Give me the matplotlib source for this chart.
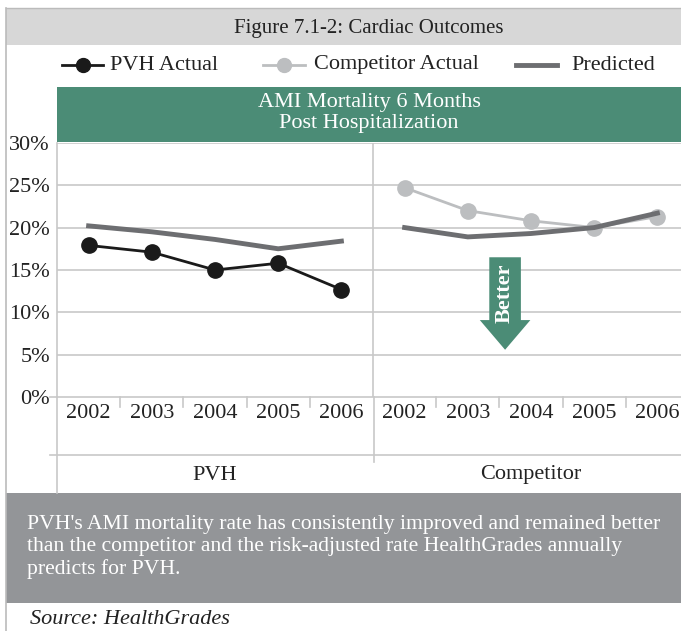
import matplotlib
matplotlib.use("Agg")
import matplotlib.pyplot as plt
from matplotlib.patches import Rectangle, Polygon

plt.rcParams['font.family'] = ['Liberation Serif', 'DejaVu Serif']

# data
years = ['2002', '2003', '2004', '2005', '2006']
groups = ['PVH', 'Competitor']
pvh_actual = [17.9, 17.1, 15.0, 15.8, 12.7]
pvh_predicted = [20.2, 19.5, 18.6, 17.5, 18.4]
comp_actual = [24.7, 22.0, 20.8, 20.0, 21.3]
comp_predicted = [20.0, 18.9, 19.3, 20.0, 21.7]
yticks = [0, 5, 10, 15, 20, 25, 30]

title = 'Figure 7.1-2: Cardiac Outcomes'
band = 'AMI Mortality 6 Months\nPost Hospitalization'
note = ("PVH's AMI mortality rate has consistently improved and remained better\n"
        "than the competitor and the risk-adjusted rate HealthGrades annually\n"
        "predicts for PVH.")
source = 'Source: HealthGrades'

green = '#4b8c76'
grid_c = '#c8c8c8'
black_c = '#1a1a1a'
light_c = '#bcbec0'
pred_c = '#6d6e71'
txt_c = '#222222'
fs = 16

W, H = 681, 631
fig = plt.figure(figsize=(W / 100, H / 100), dpi=100)

# background layer in pixel coordinates
bg = fig.add_axes([0, 0, 1, 1])
bg.set_xlim(0, W)
bg.set_ylim(H, 0)
bg.axis('off')

bg.add_patch(Rectangle((6, 8), W - 6, 37, color='#d7d7d7', lw=0))
bg.plot([6, W], [8, 8], color='#bbbbbb', lw=1)
bg.plot([6, 6], [8, H], color='#bbbbbb', lw=1.2)
bg.text(369, 28, title, ha='center', va='center', fontsize=15, color=txt_c)

# legend row
ly = 65
bg.plot([62, 103], [ly, ly], color=black_c, lw=2)
bg.plot([83], [ly], 'o', color=black_c, ms=10)
bg.text(110, ly, 'PVH Actual', va='center', fontsize=fs, color=txt_c)
bg.plot([263, 305], [ly, ly], color=light_c, lw=2)
bg.plot([284], [ly], 'o', color=light_c, ms=10)
bg.text(314, ly, 'Competitor Actual', va='center', fontsize=fs, color=txt_c)
bg.plot([516, 557], [ly, ly], color=pred_c, lw=3.5)
bg.text(571, ly, 'Predicted', va='center', fontsize=fs, color=txt_c)

# green header band
bg.add_patch(Rectangle((57, 87), W - 57, 55, color=green, lw=0))
bg.text(369, 113, band, ha='center', va='center', fontsize=fs, color='white',
        linespacing=1.2)

# multi-level category frame
bg.plot([50, W], [455, 455], color=grid_c, lw=1.2)
bg.plot([57, 57], [397, 493], color=grid_c, lw=1.2)
bg.plot([374, 374], [397, 462], color=grid_c, lw=1.2)
bg.plot([50, 57], [397, 397], color=grid_c, lw=1.2)
bg.text(215, 475, groups[0], ha='center', va='center', fontsize=fs, color=txt_c)
bg.text(531, 475, groups[1], ha='center', va='center', fontsize=fs, color=txt_c)

# note box
bg.add_patch(Rectangle((6, 493), W - 6, 110, color='#939598', lw=0))
bg.text(27, 547, note, ha='left', va='center', fontsize=15.6, color='white',
        linespacing=1.2)
bg.text(30, 620, source, ha='left', va='center', fontsize=fs, style='italic',
        color=txt_c)

# plot area
px_left, px_right, px_top, px_bot = 57, 689, 142.7, 397.3
ax = fig.add_axes([px_left / W, (H - px_bot) / H,
                   (px_right - px_left) / W, (px_bot - px_top) / H])
ax.set_facecolor('none')
ax.set_xlim(-0.5, 9.5)
ax.set_ylim(0, 30)
ax.set_yticks(yticks)
ax.set_yticklabels([f'{v}%' for v in yticks], fontsize=fs, color=txt_c)
for v in yticks[1:]:
    ax.axhline(v, color=grid_c, lw=1.2, zorder=0)
ax.axvline(4.5, color=grid_c, lw=1.2, zorder=0)
for s in ['top', 'right']:
    ax.spines[s].set_visible(False)
for s in ['left', 'bottom']:
    ax.spines[s].set_color(grid_c)
    ax.spines[s].set_linewidth(1.2)
ax.tick_params(axis='y', length=0, pad=5)
ax.set_xticks(range(10))
ax.set_xticklabels(years + years, fontsize=fs, color=txt_c)
ax.tick_params(axis='x', length=0, pad=5)
for b in [0.5, 1.5, 2.5, 3.5, 5.5, 6.5, 7.5, 8.5]:
    ax.plot([b, b], [0, -1.2], color=grid_c, lw=1.2, clip_on=False)

xp = list(range(5))
xc = list(range(5, 10))
ax.plot(xp, pvh_predicted, color=pred_c, lw=3.5, zorder=3)
ax.plot(xp, pvh_actual, color=black_c, lw=2, marker='o', ms=11, zorder=4)
ax.plot(xc, comp_actual, color=light_c, lw=2, marker='o', ms=11, zorder=3)
ax.plot(xc, comp_predicted, color=pred_c, lw=3.5, zorder=4)

# "Better" arrow
cx = 6.59
arrow = Polygon([(cx - 0.25, 16.5), (cx + 0.25, 16.5), (cx + 0.25, 9.1),
                 (cx + 0.4, 9.1), (cx, 5.6), (cx - 0.4, 9.1), (cx - 0.25, 9.1)],
                closed=True, color=green, lw=0, zorder=5)
ax.add_patch(arrow)
ax.text(cx, 12.3, 'Better', rotation=90, ha='center', va='center',
        fontsize=fs, fontweight='bold', color='white', zorder=6)

fig.savefig('out.png', dpi=100)
